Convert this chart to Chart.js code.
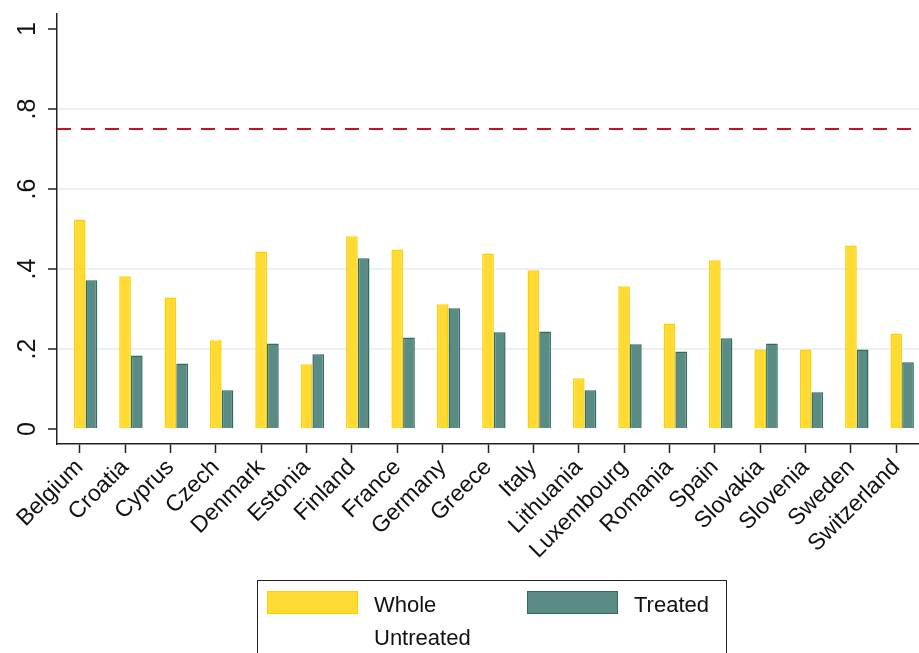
<!DOCTYPE html>
<html lang="en">
<head>
    <meta charset="UTF-8">
    <title>Whole vs Treated by country</title>
    <script src="https://cdn.jsdelivr.net/npm/chart.js"></script>
    <style>
        body {
            margin: 0;
            background: #fff;
            font-family: "Liberation Sans", Arial, sans-serif;
            overflow: hidden;
        }
        .wrap {
            position: relative;
            width: 919px;
            height: 653px;
        }
        #legend {
            position: absolute;
            left: 257px;
            top: 580px;
            width: 470px;
            height: 90px;
            border: 1.5px solid #222;
            box-sizing: border-box;
            font-size: 22px;
            color: #111;
        }
        .sw {
            position: absolute;
            width: 91px;
            height: 23px;
            top: 10px;
            box-sizing: border-box;
        }
        .lbl {
            position: absolute;
            top: 7px;
            line-height: 33px;
        }
    </style>
</head>
<body>
<div class="wrap">
    <canvas id="chart" width="919" height="653"></canvas>
    <div id="legend">
        <div class="sw" style="left:9px; background:#FFDA33; border:1.5px solid #FFD000;"></div>
        <div class="lbl" style="left:116px;">Whole<br>Untreated</div>
        <div class="sw" style="left:269px; background:#5A8B84; border:1.5px solid #2F6B62;"></div>
        <div class="lbl" style="left:376px;">Treated</div>
    </div>
</div>
<script>
    // datos
    const countries = ['Belgium', 'Croatia', 'Cyprus', 'Czech', 'Denmark', 'Estonia', 'Finland',
        'France', 'Germany', 'Greece', 'Italy', 'Lithuania', 'Luxembourg', 'Romania', 'Spain',
        'Slovakia', 'Slovenia', 'Sweden', 'Switzerland'];
    const wholeUntreated = [0.524, 0.382, 0.329, 0.222, 0.444, 0.162, 0.482, 0.449, 0.312, 0.439,
        0.397, 0.127, 0.357, 0.264, 0.422, 0.199, 0.199, 0.459, 0.239];
    const treated = [0.372, 0.184, 0.164, 0.097, 0.214, 0.187, 0.427, 0.229, 0.302, 0.242,
        0.244, 0.097, 0.212, 0.194, 0.227, 0.214, 0.092, 0.199, 0.167];
    const refLine = 0.75;
    const yTicks = [0, 0.2, 0.4, 0.6, 0.8, 1];

    function fmtTick(v) {
        if (Math.abs(v) < 1e-9) return '0';
        if (Math.abs(v - 1) < 1e-9) return '1';
        return v.toFixed(1).replace(/^0/, '');
    }

    // linea horizontal discontinua
    const refLinePlugin = {
        id: 'refLine',
        afterDatasetsDraw(chart) {
            const y = chart.scales.y.getPixelForValue(refLine);
            const a = chart.chartArea;
            const c = chart.ctx;
            c.save();
            c.strokeStyle = '#C8102E';
            c.lineWidth = 2;
            c.setLineDash([14, 10]);
            c.beginPath();
            c.moveTo(a.left, y);
            c.lineTo(a.right, y);
            c.stroke();
            c.restore();
        }
    };

    // etiquetas del eje y giradas (como en Stata)
    const yLabelsPlugin = {
        id: 'yLabels',
        afterDraw(chart) {
            const s = chart.scales.y;
            const c = chart.ctx;
            c.save();
            c.fillStyle = '#111';
            c.font = '25px "Liberation Sans", Arial, sans-serif';
            c.textAlign = 'center';
            c.textBaseline = 'middle';
            s.ticks.forEach(t => {
                const y = s.getPixelForValue(t.value);
                c.save();
                c.translate(28, y);
                c.rotate(-Math.PI / 2);
                c.fillText(fmtTick(t.value), 0, 0);
                c.restore();
            });
            c.restore();
        }
    };

    const ctx = document.getElementById('chart').getContext('2d');
    new Chart(ctx, {
        type: 'bar',
        data: {
            labels: countries,
            datasets: [{
                // hueco vacio: en el original las barras quedan a la derecha de la marca
                label: '',
                data: countries.map(() => null),
                backgroundColor: 'rgba(0,0,0,0)'
            }, {
                label: 'Whole Untreated',
                data: wholeUntreated,
                backgroundColor: '#FFDA33',
                borderColor: '#FFD000',
                borderWidth: 1.5
            }, {
                label: 'Treated',
                data: treated,
                backgroundColor: '#5A8B84',
                borderColor: '#2F6B62',
                borderWidth: 1.5
            }]
        },
        options: {
            responsive: false,
            animation: false,
            devicePixelRatio: 1,
            layout: { padding: { top: 14, right: 0, left: 0, bottom: 0 } },
            plugins: {
                legend: { display: false },
                tooltip: { enabled: false }
            },
            datasets: {
                bar: { categoryPercentage: 0.775, barPercentage: 1 }
            },
            scales: {
                x: {
                    offset: true,
                    grid: {
                        offset: false,
                        drawOnChartArea: false,
                        tickColor: '#222',
                        tickLength: 9,
                        tickWidth: 1.5
                    },
                    border: { color: '#222', width: 1.5 },
                    ticks: {
                        autoSkip: false,
                        minRotation: 45,
                        maxRotation: 45,
                        color: '#111',
                        padding: 1,
                        font: { family: '"Liberation Sans", Arial, sans-serif', size: 23 }
                    },
                    afterFit(scale) {
                        scale.height = 209;
                        scale.paddingLeft = 0;
                        scale.paddingRight = 0;
                    }
                },
                y: {
                    min: -0.0375,
                    max: 1.0375,
                    afterBuildTicks(scale) {
                        scale.ticks = yTicks.map(v => ({ value: v }));
                    },
                    grid: {
                        color: c => (c.tick && (c.tick.value === 0 || c.tick.value === 1)) ? 'rgba(0,0,0,0)' : '#EAF0F3',
                        lineWidth: 2,
                        tickColor: '#222',
                        tickLength: 9,
                        tickWidth: 1.5
                    },
                    border: { color: '#222', width: 1.5 },
                    ticks: { display: false },
                    afterFit(scale) {
                        scale.width = 57;
                    }
                }
            }
        },
        plugins: [refLinePlugin, yLabelsPlugin]
    });
</script>
</body>
</html>
